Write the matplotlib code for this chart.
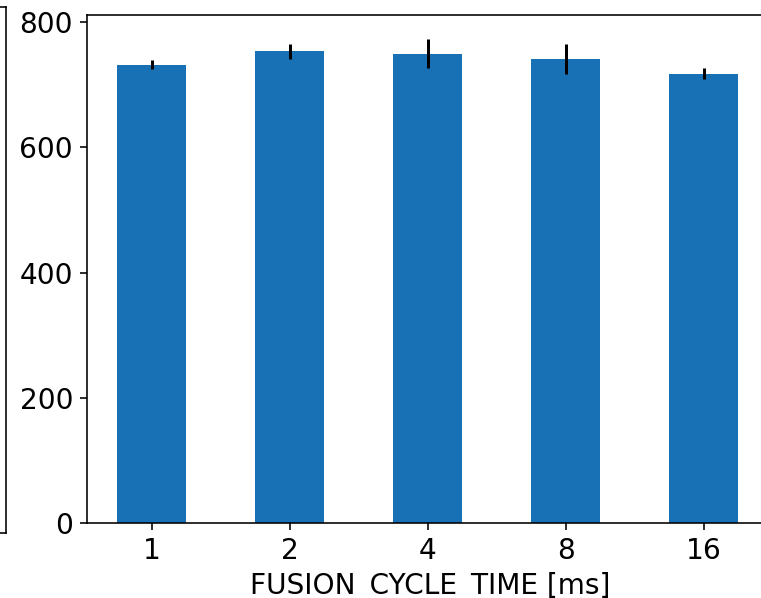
import matplotlib.pyplot as plt
import numpy as np

# fusion cycle time sweep
cycle_times = ['1', '2', '4', '8', '16']
mean_vals = [732, 754, 750, 741, 718]
err_vals = [7, 12, 23, 24, 9]

plt.rcParams['font.size'] = 14

fig = plt.figure(figsize=(761 / 144, 598 / 144), dpi=144)

# edge of the neighbouring panel (cropped off on the left)
ax_prev = fig.add_axes([-0.2, (598 - 533) / 598, 0.2 + 6 / 761, (533 - 7) / 598])
ax_prev.set_xticks([])
ax_prev.set_yticks([])

ax = fig.add_axes([87 / 761, (598 - 523) / 598, 686 / 761, 508 / 598])
x = np.arange(len(cycle_times))
ax.bar(x, mean_vals, width=0.5, color='#1771b4', yerr=err_vals, ecolor='black')
ax.set_xticks(x, cycle_times)
ax.set_xlim(-0.47, 4.5)
ax.set_yticks([0, 200, 400, 600, 800])
ax.set_xlabel('FUSION_CYCLE_TIME [ms]', labelpad=3.5)

fig.savefig('out.png', dpi=144)
